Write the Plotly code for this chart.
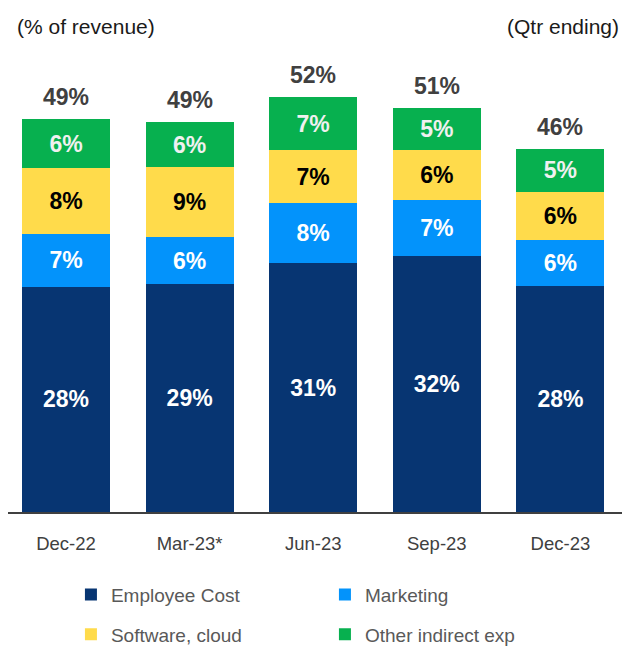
import plotly.graph_objects as go

# Quarterly indirect cost as % of revenue
quarters = ["Dec-22", "Mar-23*", "Jun-23", "Sep-23", "Dec-23"]
employee = [28.3, 28.6, 31.2, 32.1, 28.4]
marketing = [6.6, 5.9, 7.6, 7.1, 5.8]
software = [8.3, 8.8, 6.6, 6.3, 6.0]
other = [6.1, 5.6, 6.7, 5.2, 5.4]

series = [
    ("Employee Cost", employee, "#073572", "#ffffff", "legend"),
    ("Marketing", marketing, "#0393fb", "#ffffff", "legend"),
    ("Software, cloud", software, "#ffdb4b", "#000000", "legend2"),
    ("Other indirect exp", other, "#07b04f", "#f0f0f0", "legend2"),
]

totals = [sum(v) for v in zip(employee, marketing, software, other)]

FONT = "Liberation Sans, Arial, sans-serif"

fig = go.Figure()
for name, vals, color, txtcol, leg in series:
    fig.add_trace(go.Bar(
        x=quarters, y=vals, name=name, legend=leg,
        marker=dict(color=color, line=dict(width=0)),
        texttemplate="%{y:.0f}%", textposition="inside",
        insidetextanchor="middle", textangle=0,
        textfont=dict(family=FONT, size=23, color=txtcol, weight="bold"),
        hoverinfo="skip",
    ))

# totals above each bar
annotations = [dict(
    x=q, y=t, text=f"{t:.0f}%", showarrow=False, yanchor="bottom", yshift=7,
    font=dict(family=FONT, size=23, color="#404040", weight="bold"),
) for q, t in zip(quarters, totals)]

annotations += [
    dict(x=0.0114, y=1.0295, xref="paper", yref="paper", text="(% of revenue)",
         showarrow=False, xanchor="left", yanchor="middle",
         font=dict(family=FONT, size=21, color="#1a1a1a")),
    dict(x=0.9985, y=1.0295, xref="paper", yref="paper", text="(Qtr ending)",
         showarrow=False, xanchor="right", yanchor="middle",
         font=dict(family=FONT, size=21, color="#1a1a1a")),
]

legend_style = dict(
    orientation="h", x=0.1025, xanchor="left", yanchor="middle",
    traceorder="normal", entrywidth=209, entrywidthmode="pixels",
    font=dict(family=FONT, size=19, color="#595959"),
    bgcolor="rgba(0,0,0,0)",
)

fig.update_layout(
    width=634, height=646,
    margin=dict(l=0, r=20, t=32, b=140),
    barmode="stack", bargap=0.288,
    plot_bgcolor="white", paper_bgcolor="white",
    uniformtext=dict(minsize=23, mode="show"),
    annotations=annotations,
    legend=dict(legend_style, y=-0.1751),
    legend2=dict(legend_style, y=-0.2595),
    xaxis=dict(
        range=[-0.4693, 4.4984],
        showline=True, linecolor="#404040", linewidth=2,
        ticks="", ticklabelstandoff=14,
        tickfont=dict(family=FONT, size=18.5, color="#404040"),
        fixedrange=True,
    ),
    yaxis=dict(range=[0, 59.25], visible=False, showgrid=False, fixedrange=True),
)

fig.write_html("out.html")
